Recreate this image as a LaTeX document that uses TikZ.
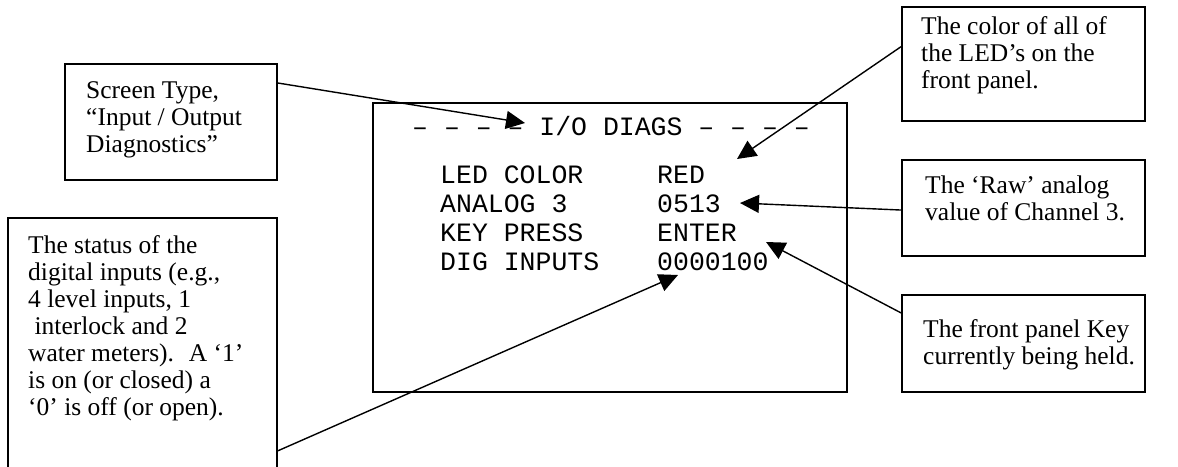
\documentclass[tikz,border=0pt]{standalone}
\usepackage{fontspec}
\setmainfont{Liberation Serif}
\setmonofont{Liberation Mono}
\usetikzlibrary{arrows.meta,positioning}

\tikzset{
  notebox/.style={draw, line width=1.8pt, anchor=north west, inner sep=0pt},
  notetext/.style={anchor=north west, inner sep=0pt, align=left,
    font=\fontsize{25.5}{27}\selectfont},
  screenline/.style={anchor=base west, inner sep=0pt,
    font=\fontsize{26.5}{29}\selectfont\ttfamily},
  pointer/.style={line width=1.4pt, -{Triangle[length=19pt,width=18pt]}}
}

\begin{document}
\begin{tikzpicture}[x=1pt, y=-1pt]
  \clip (0,0) rectangle (1178,466);

  % display screen
  \node[notebox, minimum width=474pt, minimum height=289pt] (screen) at (372,102) {};
  \node[screenline] (title) at (412,135) {– – – – I/O DIAGS – – – –};
  \node[screenline] (ledname) at (440,183) {LED COLOR};
  \node[screenline] (ledval) at (657,183) {RED};
  \node[screenline] (anname) at (440,212) {ANALOG 3};
  \node[screenline] (anval) at (657,212) {0513};
  \node[screenline] (keyname) at (440,241) {KEY PRESS};
  \node[screenline] (keyval) at (657,241) {ENTER};
  \node[screenline] (digname) at (440,270) {DIG INPUTS};
  \node[screenline] (digval) at (657,270) {0000100};

  % callout boxes
  \node[notebox, minimum width=212pt, minimum height=116pt] (scrtype) at (64,63) {};
  \node[notebox, minimum width=269pt, minimum height=290pt] (status) at (7,217) {};
  \node[notebox, minimum width=243pt, minimum height=114pt] (ledbox) at (901,6) {};
  \node[notebox, minimum width=243pt, minimum height=96pt] (rawbox) at (901,159) {};
  \node[notebox, minimum width=243pt, minimum height=97pt] (keybox) at (901,294) {};

  % callout texts
  \node[notetext, below right=16pt and 22pt of scrtype.north west] (scrtext)
    {\strut Screen Type,\\“Input / Output\\Diagnostics”};
  \node[notetext, below right=17pt and 21pt of status.north west] (statustext)
    {\strut The status of the\\digital inputs (e.g.,\\4 level inputs, 1\\\hspace*{.25em}interlock and 2\\water meters). \ A ‘1’\\is on (or closed) a\\‘0’ is off (or open).};
  \node[notetext, below right=9pt and 20pt of ledbox.north west] (ledtext)
    {\strut The color of all of\\the LED’s on the\\front panel.};
  \node[notetext, below right=15pt and 24pt of rawbox.north west] (rawtext)
    {\strut The ‘Raw’ analog\\value of Channel 3.};
  \node[notetext, below right=24pt and 22pt of keybox.north west] (keytext)
    {\strut The front panel Key\\currently being held.};

  % arrow tips
  \coordinate (titletip) at (525,123);
  \coordinate (ledtip) at (737,159);
  \coordinate (antip) at (740,203);
  \coordinate (keytip) at (766,242);
  \coordinate (digtip) at (678,275);

  % pointers
  \draw[pointer] (scrtype.20) -- (titletip);
  \draw[pointer] (ledbox.172.5) -- (ledtip);
  \draw[pointer] (rawbox.181.4) -- (antip);
  \draw[pointer] (keybox.166.4) -- (keytip);
  \draw[pointer] (status.327.4) -- (digtip);
\end{tikzpicture}
\end{document}
